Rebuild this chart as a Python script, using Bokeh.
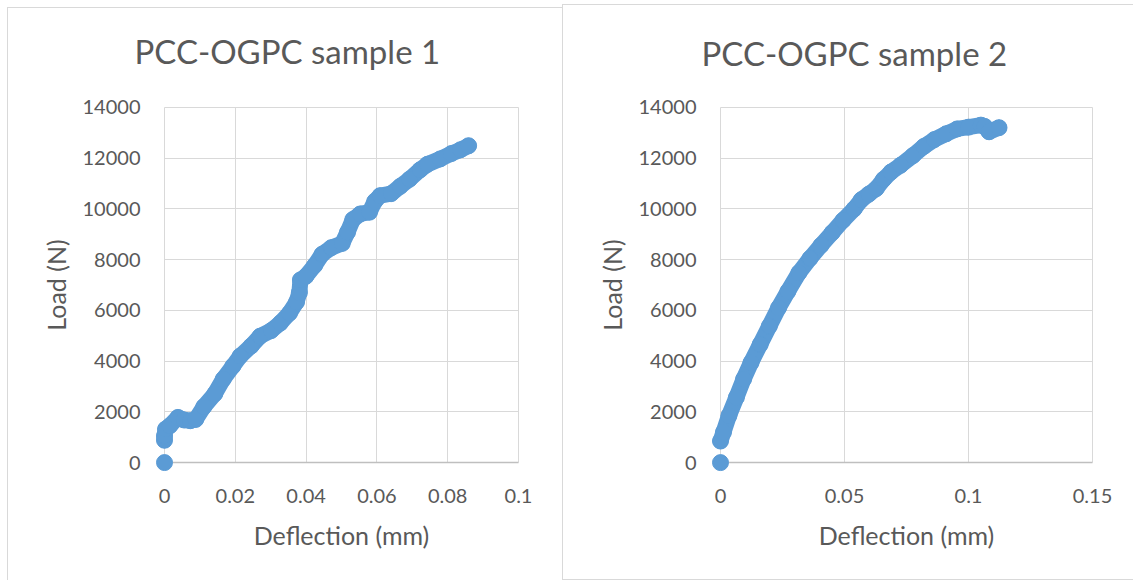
from bokeh.plotting import figure
from bokeh.models import FixedTicker, ColumnDataSource, Range1d, Grid
from bokeh.layouts import row
from bokeh.embed import file_html
from bokeh.resources import INLINE

# ---------------- data ----------------
title_1 = "PCC-OGPC sample 1"
defl_1 = [0, 0, 0, 0.0003, 0.0015, 0.0038, 0.0055, 0.0073, 0.0088, 0.0111, 0.0142, 0.0166,
          0.0193, 0.0214, 0.0245, 0.027, 0.0301, 0.0327, 0.0353, 0.0373, 0.0381, 0.0384,
          0.0399, 0.0424, 0.0445, 0.0471, 0.0502, 0.0517, 0.0532, 0.0553, 0.0579, 0.0594,
          0.0609, 0.064, 0.0666, 0.0692, 0.0722, 0.0743, 0.0779, 0.081, 0.0836, 0.0859]
load_1 = [0, 880, 1050, 1320, 1450, 1780, 1680, 1650, 1700, 2200, 2710, 3290,
          3800, 4200, 4600, 4980, 5200, 5500, 5890, 6330, 6700, 7200,
          7340, 7770, 8210, 8470, 8640, 9080, 9580, 9800, 9870, 10300,
          10520, 10600, 10890, 11170, 11540, 11760, 11970, 12180, 12330, 12490]
x_ticks_1 = [0, 0.02, 0.04, 0.06, 0.08, 0.1]
x_labels_1 = ["0", "0.02", "0.04", "0.06", "0.08", "0.1"]

title_2 = "PCC-OGPC sample 2"
defl_2 = [0, 0, 0.0012, 0.0034, 0.0064, 0.0093, 0.0123, 0.016, 0.0197, 0.0234, 0.0272,
          0.0316, 0.0361, 0.0405, 0.045, 0.0494, 0.0539, 0.0568, 0.0598, 0.0628, 0.0657,
          0.0687, 0.0726, 0.0776, 0.082, 0.0862, 0.091, 0.0954, 0.1, 0.105, 0.1065,
          0.1083, 0.1123]
load_2 = [0, 850, 1200, 1850, 2570, 3290, 3940, 4660, 5380, 6100, 6750,
          7480, 8050, 8560, 9060, 9550, 10000, 10360, 10580, 10800, 11160,
          11450, 11720, 12100, 12460, 12730, 12960, 13150, 13220, 13300, 13250,
          13040, 13200]
x_ticks_2 = [0, 0.05, 0.1, 0.15]
x_labels_2 = ["0", "0.05", "0.1", "0.15"]

y_ticks = [0, 2000, 4000, 6000, 8000, 10000, 12000, 14000]
y_labels = ["0", "2000", "4000", "6000", "8000", "10000", "12000", "14000"]

x_title = "Deflection (mm)"
y_title = "Load (N)"

# ---------------- style ----------------
FONT = "Lato"
TEXT = "#595959"
BLUE = "#5B9BD5"
GRID = "#d9d9d9"
AXIS = "#bfbfbf"
PAD = 9


def make(title, xs, ys, x_ticks, x_labels, W, H, gl, gr, gt, gb, title_offset, title_standoff, styles):
    xmin, xmax = x_ticks[0], x_ticks[-1]
    ymin, ymax = y_ticks[0], y_ticks[-1]
    px = PAD * (xmax - xmin) / (gr - gl)
    py = PAD * (ymax - ymin) / (gb - gt)
    p = figure(width=W, height=H,
               x_range=Range1d(xmin - px, xmax + px),
               y_range=Range1d(ymin - py, ymax + py),
               output_backend="svg", toolbar_location=None,
               min_border_left=gl - PAD, min_border_right=W - gr - PAD,
               min_border_top=gt - PAD, min_border_bottom=H - gb - PAD)
    p.styles = styles
    p.background_fill_color = None
    p.border_fill_color = None
    p.outline_line_color = None

    p.title.text = title
    p.title.text_font = FONT
    p.title.text_font_size = "33px"
    p.title.text_font_style = "normal"
    p.title.text_color = TEXT
    p.title.align = "left"
    p.title.offset = title_offset
    p.title.standoff = title_standoff

    # grids
    p.xgrid.ticker = FixedTicker(ticks=x_ticks)
    p.ygrid.ticker = FixedTicker(ticks=y_ticks[1:])
    p.xgrid.cross_bounds = (ymin, ymax)
    p.ygrid.cross_bounds = (xmin, xmax)
    p.grid.grid_line_color = GRID
    p.grid.grid_line_width = 1
    base = Grid(dimension=1, ticker=FixedTicker(ticks=[ymin]),
                cross_bounds=(xmin, xmax), grid_line_color=AXIS, grid_line_width=1.5)
    p.add_layout(base)

    # axes
    for ax in (p.xaxis[0], p.yaxis[0]):
        ax.axis_line_color = None
        ax.major_tick_line_color = None
        ax.minor_tick_line_color = None
        ax.major_tick_in = 0
        ax.major_tick_out = 0
        ax.minor_tick_in = 0
        ax.minor_tick_out = 0
        ax.major_label_text_font = FONT
        ax.major_label_text_font_size = "20px"
        ax.major_label_text_color = TEXT
        ax.axis_label_text_font = FONT
        ax.axis_label_text_font_size = "25px"
        ax.axis_label_text_font_style = "normal"
        ax.axis_label_text_color = TEXT
    xa, ya = p.xaxis[0], p.yaxis[0]
    xa.ticker = FixedTicker(ticks=x_ticks)
    xa.major_label_overrides = dict(zip(x_ticks, x_labels))
    xa.axis_label = x_title
    xa.major_label_standoff = 17
    xa.axis_label_standoff = 14
    ya.ticker = FixedTicker(ticks=y_ticks)
    ya.major_label_overrides = dict(zip(y_ticks, y_labels))
    ya.axis_label = y_title
    ya.major_label_standoff = 15
    ya.axis_label_standoff = 9

    src = ColumnDataSource(dict(x=xs, y=ys))
    line_src = ColumnDataSource(dict(x=xs[1:], y=ys[1:]))
    p.line("x", "y", source=line_src, line_color=BLUE, line_width=16,
           line_join="round", line_cap="round")
    p.scatter("x", "y", source=src, size=16, marker="circle",
              fill_color=BLUE, line_color=BLUE)
    return p


grad = "linear-gradient(#d9d9d9, #d9d9d9)"
left_styles = {
    "background-color": "#ffffff",
    "background-image": f"{grad}, {grad}",
    "background-size": "1px 100%, 100% 1px",
    "background-position": "7px 7px, 7px 7px",
    "background-repeat": "no-repeat",
}
right_styles = {
    "background-color": "#ffffff",
    "background-image": f"{grad}, {grad}, {grad}",
    "background-size": "1px 576px, 100% 1px, 100% 1px",
    "background-position": "0px 4px, 0px 4px, 0px 579px",
    "background-repeat": "no-repeat",
}

p1 = make(title_1, defl_1, load_1, x_ticks_1, x_labels_1, 562, 580,
          164, 518, 107, 465, -21, 55, left_styles)
p2 = make(title_2, defl_2, load_2, x_ticks_2, x_labels_2, 571, 580,
          158, 530, 102, 462, -10, 51, right_styles)

layout = row(p1, p2, spacing=0)
open("out.html", "w").write(file_html(layout, INLINE))
